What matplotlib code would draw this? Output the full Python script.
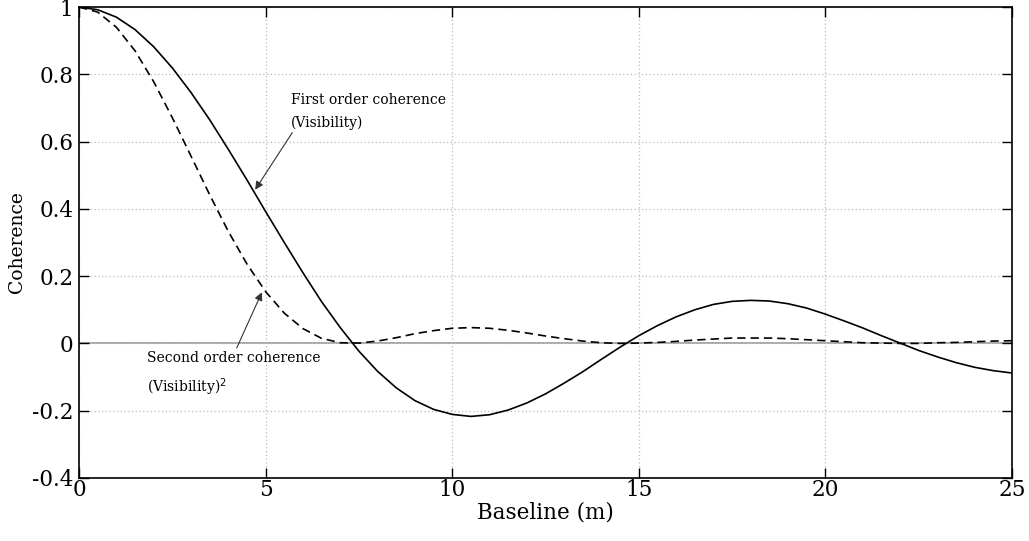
import matplotlib
matplotlib.use('Agg')
import matplotlib.pyplot as plt

baseline = [0.0, 0.5, 1.0, 1.5, 2.0, 2.5, 3.0, 3.5, 4.0, 4.5,
            5.0, 5.5, 6.0, 6.5, 7.0, 7.5, 8.0, 8.5, 9.0, 9.5,
            10.0, 10.5, 11.0, 11.5, 12.0, 12.5, 13.0, 13.5, 14.0, 14.5,
            15.0, 15.5, 16.0, 16.5, 17.0, 17.5, 18.0, 18.5, 19.0, 19.5,
            20.0, 20.5, 21.0, 21.5, 22.0, 22.5, 23.0, 23.5, 24.0, 24.5, 25.0]

first_order = [1.000, 0.992, 0.970, 0.933, 0.882, 0.819, 0.746, 0.665, 0.577, 0.486,
               0.392, 0.300, 0.210, 0.124, 0.047, -0.023, -0.083, -0.132, -0.170, -0.196,
               -0.211, -0.217, -0.212, -0.198, -0.177, -0.150, -0.118, -0.084, -0.047, -0.011,
               0.023, 0.053, 0.079, 0.100, 0.116, 0.125, 0.128, 0.126, 0.118, 0.105,
               0.087, 0.067, 0.046, 0.023, 0.001, -0.021, -0.040, -0.057, -0.071, -0.081, -0.088]

second_order = [1.000, 0.985, 0.940, 0.870, 0.778, 0.671, 0.557, 0.442, 0.333, 0.236,
                0.154, 0.090, 0.044, 0.015, 0.002, 0.001, 0.007, 0.017, 0.029, 0.038,
                0.045, 0.047, 0.045, 0.039, 0.031, 0.022, 0.014, 0.007, 0.002, 0.000,
                0.001, 0.003, 0.006, 0.010, 0.013, 0.016, 0.016, 0.016, 0.014, 0.011,
                0.008, 0.005, 0.002, 0.001, 0.000, 0.000, 0.002, 0.003, 0.005, 0.007, 0.008]

x_ticks = [0, 5, 10, 15, 20, 25]
y_ticks = [-0.4, -0.2, 0, 0.2, 0.4, 0.6, 0.8, 1]
y_tick_labels = ['-0.4', '-0.2', '0', '0.2', '0.4', '0.6', '0.8', '1']

plt.rcParams['font.family'] = ['DejaVu Serif']

fig = plt.figure(figsize=(10.29, 5.41), dpi=100)
ax = fig.add_axes([0.0768, 0.1165, 0.9067, 0.8705])

ax.axhline(0, color='#999999', linewidth=1.2, zorder=1)
ax.plot(baseline, first_order, color='black', linewidth=1.2, linestyle='-', zorder=3)
ax.plot(baseline, second_order, color='black', linewidth=1.2, linestyle=(0, (5, 3)), zorder=3)

ax.set_xlim(0, 25)
ax.set_ylim(-0.4, 1)
ax.set_xticks(x_ticks)
ax.set_xticklabels([str(t) for t in x_ticks])
ax.set_yticks(y_ticks)
ax.set_yticklabels(y_tick_labels)
ax.tick_params(direction='in', length=7, width=1, top=True, right=True,
               labelsize=15.5)
ax.tick_params(axis='x', pad=1)
ax.tick_params(axis='y', pad=4)
ax.grid(True, color='#bbbbbb', linestyle=(0, (1, 2)), linewidth=0.9)
for s in ax.spines.values():
    s.set_linewidth(1.2)

ax.set_xlabel('Baseline (m)', fontsize=15.5, labelpad=0)
ax.set_ylabel('Coherence', fontsize=13.5)
ax.yaxis.set_label_coords(-0.057, 0.5)

# annotations
ax.annotate('First order coherence\n(Visibility)', xy=(4.72, 0.457), xytext=(5.68, 0.635),
            fontsize=10, ha='left', va='bottom', linespacing=1.75,
            arrowprops=dict(arrowstyle='-|>', color='#333333', lw=0.8,
                            mutation_scale=12, shrinkA=0, shrinkB=0,
                            relpos=(0.02, 0.0)))
ax.annotate('Second order coherence\n(Visibility)$^2$', xy=(4.90, 0.152), xytext=(1.82, -0.022),
            fontsize=10, ha='left', va='top', linespacing=1.75,
            arrowprops=dict(arrowstyle='-|>', color='#333333', lw=0.8,
                            mutation_scale=12, shrinkA=0, shrinkB=0,
                            relpos=(0.51, 1.0)))

fig.savefig('out.png', dpi=100)
